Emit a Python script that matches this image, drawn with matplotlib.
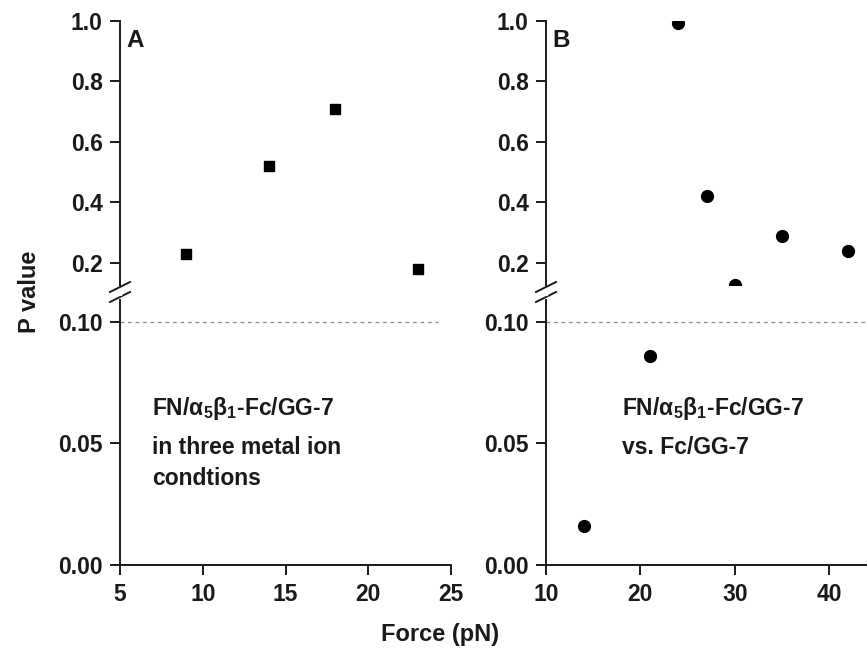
import matplotlib
matplotlib.use("Agg")
import matplotlib.pyplot as plt

plt.rcParams["font.family"] = ["Liberation Sans", "DejaVu Sans"]
plt.rcParams["font.weight"] = "bold"
plt.rcParams["mathtext.fontset"] = "custom"
plt.rcParams["mathtext.rm"] = "Liberation Sans:bold"
plt.rcParams["mathtext.bf"] = "Liberation Sans:bold"
plt.rcParams["mathtext.it"] = "Liberation Sans:bold"
plt.rcParams["mathtext.default"] = "bf"

# panel A: squares
force_a = [9, 14, 18, 23]
p_a = [0.23, 0.52, 0.71, 0.18]

# panel B: circles
force_b = [14, 21, 24, 27, 30, 35, 42]
p_b = [0.016, 0.086, 0.995, 0.42, 0.127, 0.29, 0.24]

upper_ticks = [0.2, 0.4, 0.6, 0.8, 1.0]
lower_ticks = [0.00, 0.05, 0.10]
xticks_a = [5, 10, 15, 20, 25]
xticks_b = [10, 20, 30, 40]

INK = "#1a1a1a"
FS = 16.5

W, H = 867, 659
fig = plt.figure(figsize=(W / 100, H / 100), dpi=100)


def fx(px):
    return px / W


def fy(py):
    return 1 - py / H


def make_pair(left, right, xlim, xticks, marker, ms, xs, ys, label, notes, note_x):
    up = fig.add_axes([fx(left), fy(285), fx(right - left), fy(21) - fy(285)])
    lo = fig.add_axes([fx(left), fy(565), fx(right - left), fy(300) - fy(565)])
    for ax in (up, lo):
        ax.set_xlim(*xlim)
        ax.spines["top"].set_visible(False)
        ax.spines["right"].set_visible(False)
        for s in ax.spines.values():
            s.set_linewidth(1.4)
            s.set_color(INK)
        ax.tick_params(direction="out", length=7, width=1.4, color=INK,
                       labelsize=FS, labelcolor=INK)
        ax.tick_params(axis="y", pad=5.5)
        ax.tick_params(axis="x", pad=6)
        ax.plot(xs, ys, linestyle="none", marker=marker, ms=ms, color="black")
    up.set_ylim(0.127, 1.0)
    up.set_yticks(upper_ticks)
    up.set_yticklabels([f"{t:.1f}" for t in upper_ticks])
    up.spines["bottom"].set_visible(False)
    up.set_xticks([])
    lo.set_ylim(0, 0.109)
    lo.set_yticks(lower_ticks)
    lo.set_yticklabels([f"{t:.2f}" for t in lower_ticks])
    lo.set_xticks(xticks)
    lo.axhline(0.10, xmin=0, xmax=0.96 if xlim[0] == 5 else 1.0,
               color="#888888", lw=0.9, linestyle=(0, (3, 3)))
    up.text(0.02, 0.90, label, transform=up.transAxes, fontsize=FS + 1,
            fontweight="bold", color=INK, va="baseline")
    for txt, yb in notes:
        lo.text(note_x, yb, txt, fontsize=FS, fontweight="bold", color=INK,
                va="baseline")
    # break marks
    for yb in (287, 297):
        fig.add_artist(plt.Line2D([fx(left - 10), fx(left + 10)],
                                  [fy(yb + 5), fy(yb - 5)],
                                  color=INK, lw=1.4))
    fig.add_artist(plt.Line2D([fx(left), fx(left)], [fy(291), fy(294)],
                              color="white", lw=3))
    return up, lo


name = r"FN/α$_5$β$_1$-Fc/GG-7"
make_pair(120, 451, (5, 25), xticks_a, "s", 7.5, force_a, p_a, "A",
          [(name, 0.0617), ("in three metal ion", 0.0457), ("condtions", 0.0329)],
          6.93)
make_pair(546, 867, (10, 44), xticks_b, "o", 8.5, force_b, p_b, "B",
          [(name, 0.0617), ("vs. Fc/GG-7", 0.0457)],
          18.0)

fig.text(fx(30), fy(292), "P value", rotation=90, ha="center", va="center",
         fontsize=FS + 0.5, fontweight="bold", color=INK)
fig.text(fx(440), fy(634), "Force (pN)", ha="center", va="center",
         fontsize=FS + 0.5, fontweight="bold", color=INK)

fig.savefig("out.png", dpi=100, facecolor="white")
